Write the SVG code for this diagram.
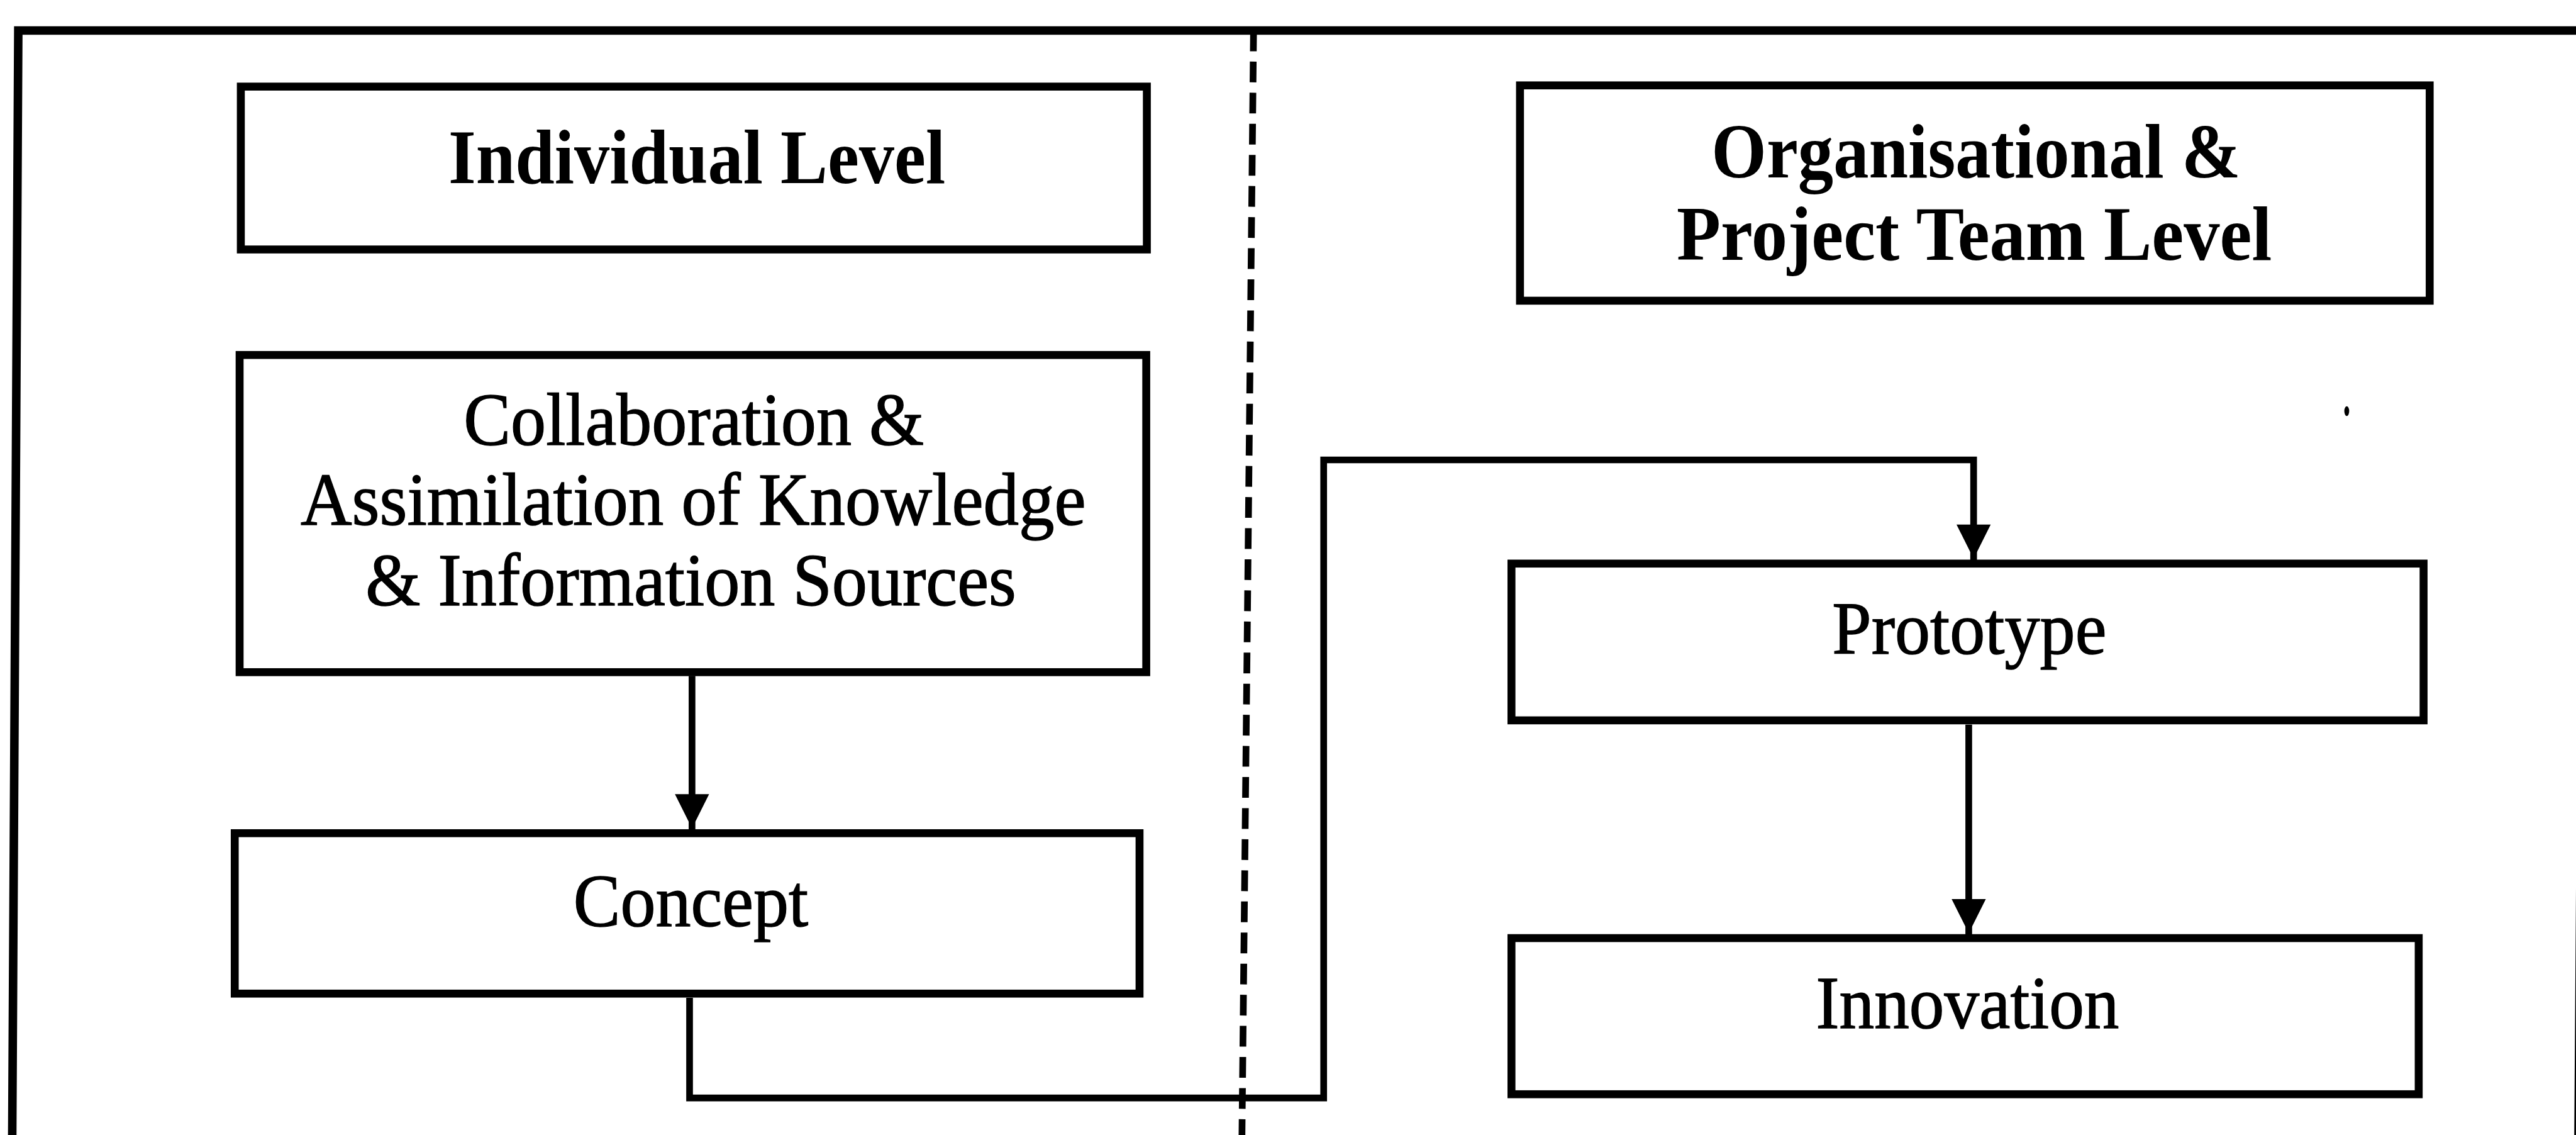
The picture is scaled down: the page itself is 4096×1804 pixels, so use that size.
<svg xmlns="http://www.w3.org/2000/svg" width="4096" height="1804" viewBox="0 0 4096 1804">
  <defs>
    <style>
      .box { fill: #ffffff; stroke: #000000; stroke-width: 13; }
      .wire { fill: none; stroke: #000000; stroke-width: 11; }
      .frame { fill: none; stroke: #000000; stroke-width: 14; stroke-linejoin: miter; }
      .divider { fill: none; stroke: #000000; stroke-width: 11; stroke-dasharray: 34 17; }
      .lbl { font-family: "Liberation Serif", "Times New Roman", serif; font-size: 123px; fill: #000000; stroke: #000000; stroke-width: 1.5; text-anchor: middle; }
      .head { font-family: "Liberation Serif", "Times New Roman", serif; font-size: 126px; font-weight: bold; fill: #000000; text-anchor: middle; }
    </style>
    <marker id="arrow" markerUnits="userSpaceOnUse" viewBox="0 0 56 56" markerWidth="56" markerHeight="56" refX="64" refY="28" orient="auto" overflow="visible">
      <path d="M0,0 L56,28 L0,56 Z" fill="#000000"/>
    </marker>
  </defs>

  <rect x="0" y="0" width="4096" height="1804" fill="#ffffff"/>

  <!-- drawing laid out in 4225 x 1861 units, scaled to the window -->
  <g transform="scale(0.96947)">

    <!-- outer frame and the dashed level divider -->
    <g id="frame">
      <path class="frame" d="M20,1875 L30,50 L4242,50 L4229,1875"/>
      <path class="divider" d="M2056,50 L2037,1861"/>
      <ellipse cx="3849" cy="674" rx="4" ry="8" fill="#000000"/>
    </g>

    <g id="individual-level">
      <rect class="box" x="395" y="142" width="1486" height="267"/>
      <text class="head" x="1143" y="300" textLength="815" lengthAdjust="spacingAndGlyphs">Individual Level</text>
    </g>

    <g id="collaboration">
      <rect class="box" x="393" y="582" width="1487" height="520"/>
      <text class="lbl" x="1138" y="729" textLength="755" lengthAdjust="spacingAndGlyphs">Collaboration &amp;</text>
      <text class="lbl" x="1137" y="860" textLength="1288" lengthAdjust="spacingAndGlyphs">Assimilation of Knowledge</text>
      <text class="lbl" x="1133" y="992" textLength="1067" lengthAdjust="spacingAndGlyphs">&amp; Information Sources</text>
    </g>

    <g id="concept">
      <rect class="box" x="385" y="1366" width="1484" height="263"/>
      <text class="lbl" x="1133" y="1518" textLength="385" lengthAdjust="spacingAndGlyphs">Concept</text>
    </g>

    <g id="organisational-level">
      <rect class="box" x="2493" y="140" width="1492" height="353"/>
      <text class="head" x="3241" y="291" textLength="868" lengthAdjust="spacingAndGlyphs">Organisational &amp;</text>
      <text class="head" x="3238" y="426" textLength="976" lengthAdjust="spacingAndGlyphs">Project Team Level</text>
    </g>

    <g id="prototype">
      <rect class="box" x="2479" y="924" width="1496" height="257"/>
      <text class="lbl" x="3230" y="1072" textLength="450" lengthAdjust="spacingAndGlyphs">Prototype</text>
    </g>

    <g id="innovation">
      <rect class="box" x="2479" y="1538" width="1488" height="256"/>
      <text class="lbl" x="3227" y="1685" textLength="497" lengthAdjust="spacingAndGlyphs">Innovation</text>
    </g>

    <g id="connectors">
      <path class="wire" d="M1135,1108 V1366" marker-end="url(#arrow)"/>
      <path class="wire" d="M1131,1636 V1800 H2171 V754 H3237 V924" marker-end="url(#arrow)"/>
      <path class="wire" d="M3229,1188 V1538" marker-end="url(#arrow)"/>
    </g>
  </g>
</svg>
